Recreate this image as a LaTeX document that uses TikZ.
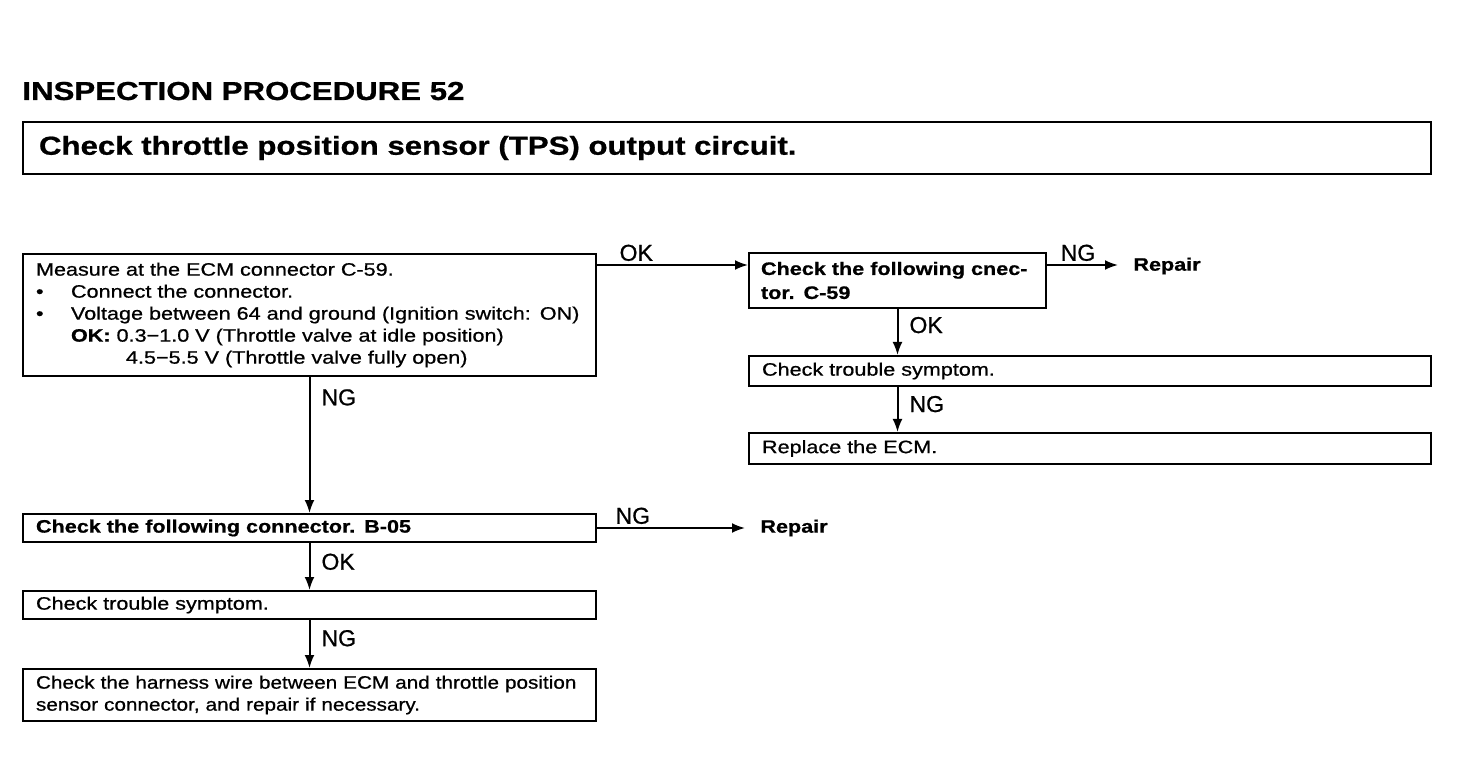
\documentclass[tikz,border=0pt]{standalone}
\usepackage{fontspec}
\setmainfont{Liberation Sans}
\newfontfamily\diagfont{Liberation Sans}[FakeStretch=1.2,FakeBold=0.8]
\newfontfamily\narrowfont{Liberation Sans}[FakeStretch=1.15,FakeBold=0.8]
\newfontfamily\lblfont{Liberation Sans}[FakeBold=0.8]
\usetikzlibrary{arrows.meta,positioning}

\begin{document}
\begin{tikzpicture}[x=0.5pt,y=-0.5pt,
  box/.style={draw,line width=1pt,anchor=north west,align=left,
    inner xsep=6.5pt,inner ysep=0pt,font=\diagfont\fontsize{9}{11}\selectfont},
  conn/.style={line width=1pt,-{Latex[length=6.5pt,width=5pt]}},
  lbl/.style={font=\lblfont\fontsize{11.5}{12}\selectfont,inner sep=1.5pt},
  vlbl/.style={lbl,right,xshift=4pt},
  repair/.style={anchor=west,inner sep=0pt,font=\diagfont\bfseries\fontsize{9}{11}\selectfont}]
  \useasboundingbox (0,0) rectangle (1472,764);

  % heading
  \node[anchor=base west,inner sep=0pt,font=\diagfont\bfseries\fontsize{13}{15}\selectfont]
    (title) at (22,100) {INSPECTION PROCEDURE 52};
  \node[box,inner xsep=8pt,text width=688pt,minimum height=26pt,
    font=\diagfont\bfseries\fontsize{13}{15}\selectfont]
    (head) at (22,121) {Check throttle position sensor (TPS) output circuit.};

  % left column
  \node[box,text width=273.5pt,minimum height=61pt] (measure) at (22,253)
    {Measure at the ECM connector C-59.\\
     \makebox[17.5pt][l]{\textbullet}Connect the connector.\\
     \makebox[17.5pt][l]{\textbullet}Voltage between 64 and ground (Ignition switch: ON)\\
     \hspace*{17.5pt}\textbf{OK:}\hspace{3pt}0.3−1.0 V (Throttle valve at idle position)\\
     \hspace*{45pt}4.5−5.5 V (Throttle valve fully open)};
  \node[box,text width=273.5pt,minimum height=14pt] (connB) at (22,513)
    {\textbf{Check the following connector. B-05}};
  \node[box,text width=273.5pt,minimum height=14pt] (symL) at (22,590)
    {Check trouble symptom.};
  \node[box,text width=273.5pt,minimum height=26pt,
    font=\narrowfont\fontsize{9}{11}\selectfont] (harness) at (22,668)
    {Check the harness wire between ECM and throttle position\\
     sensor connector, and repair if necessary.};

  % right column
  \node[box,inner xsep=6pt,text width=136.5pt,minimum height=27.5pt,
    font=\diagfont\bfseries\fontsize{9}{12}\selectfont] (connC) at (748,252)
    {Check the following cnec-\\tor. C-59};
  \node[box,text width=328pt,minimum height=15pt] (symR) at (748,355)
    {Check trouble symptom.};
  \node[box,text width=328pt,minimum height=15.5pt] (ecm) at (748,432)
    {Replace the ECM.};

  % repair ends
  \node[repair] (rep1) at (1133,266) {Repair};
  \node[repair] (rep2) at (760,528) {Repair};

  % connectors
  \coordinate (okA) at ([yshift=-6pt]measure.north east);
  \draw[conn] (okA) -- (okA -| connC.west)
    node[lbl,pos=0.26,above] {OK};
  \coordinate (ngC) at ([yshift=-6.5pt]connC.north east);
  \draw[conn,shorten >=7.5pt] (ngC) -- (ngC -| rep1.west)
    node[lbl,pos=0.36,above] {NG};
  \draw[conn] (connC.south) -- (connC.south |- symR.north)
    node[vlbl,pos=0.35] {OK};
  \draw[conn] (connC.south |- symR.south) -- (connC.south |- ecm.north)
    node[vlbl,pos=0.38] {NG};

  \draw[conn] (measure.south) -- (connB.north)
    node[vlbl,pos=0.15] {NG};
  \draw[conn,shorten >=7.5pt] (connB.east) -- (connB.east -| rep2.west)
    node[lbl,pos=0.22,above] {NG};
  \draw[conn] (connB.south) -- (symL.north)
    node[vlbl,pos=0.4] {OK};
  \draw[conn] (symL.south) -- (harness.north)
    node[vlbl,pos=0.38] {NG};
\end{tikzpicture}
\end{document}
